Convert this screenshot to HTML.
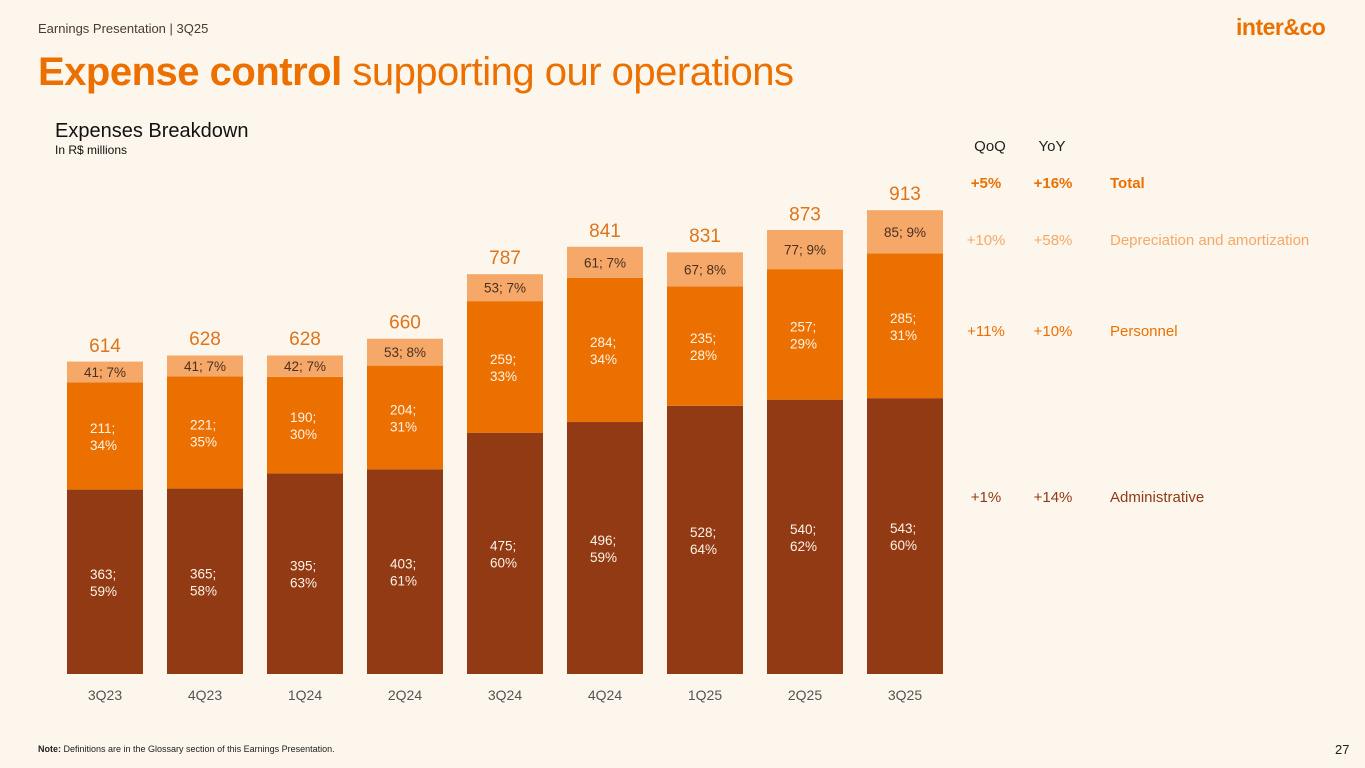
<!DOCTYPE html>
<html><head><meta charset="utf-8"><style>
body{margin:0;width:1365px;height:768px;background:#fcf6ec;font-family:"Liberation Sans",sans-serif;overflow:hidden;position:relative}
.a{position:absolute;white-space:nowrap}
</style></head><body>
<div class="a" style="left:38px;top:21px;font-size:13px;color:#4a3a30">Earnings Presentation | 3Q25</div>
<div class="a" style="left:1236px;top:14px;font-size:23px;font-weight:bold;color:#ec7000;letter-spacing:-0.5px">inter&amp;co</div>
<div class="a" style="left:38px;top:50px;font-size:40px;color:#ec7000;letter-spacing:-0.5px"><b>Expense control</b> supporting our operations</div>
<div class="a" style="left:55px;top:120px;font-size:20px;color:#111">Expenses Breakdown</div>
<div class="a" style="left:55px;top:143px;font-size:12px;color:#111">In R$ millions</div>
<svg class="a" style="left:0;top:0" width="1365" height="768" id="chart"></svg>
<div class="a" style="left:38px;top:744px;font-size:9px;color:#222"><b>Note:</b> Definitions are in the Glossary section of this Earnings Presentation.</div>
<div class="a" style="left:1335px;top:742px;font-size:13px;color:#222">27</div>
<script>
const categories=["3Q23","4Q23","1Q24","2Q24","3Q24","4Q24","1Q25","2Q25","3Q25"];
const admin=[363,365,395,403,475,496,528,540,543];
const adminPct=[59,58,63,61,60,59,64,62,60];
const personnel=[211,221,190,204,259,284,235,257,285];
const personnelPct=[34,35,30,31,33,34,28,29,31];
const dna=[41,41,42,53,53,61,67,77,85];
const dnaPct=[7,7,7,8,7,7,8,9,9];
const totals=[614,628,628,660,787,841,831,873,913];
const legendNames=["Total","Depreciation and amortization","Personnel","Administrative"];
const qoq=["+5%","+10%","+11%","+1%"];
const yoy=["+16%","+58%","+10%","+14%"];

const svg=document.getElementById('chart');
const NS='http://www.w3.org/2000/svg';
const base=674,k=0.508,x0=105,step=100,bw=76;
const y=v=>base-v*k;
const xc=i=>x0+i*step;
function el(t,a,txt){const e=document.createElementNS(NS,t);for(const n in a)e.setAttribute(n,a[n]);if(txt!=null)e.textContent=txt;svg.appendChild(e);return e;}
function twoLine(cx,cy,l1,l2,name){
  const t=el('text',{x:cx-15,y:cy-3,'font-size':13.5,fill:'#fdf3e6'});
  
  
  const s1=document.createElementNS(NS,'tspan');s1.setAttribute('x',cx-15);s1.textContent=l1;t.appendChild(s1);
  const s2=document.createElementNS(NS,'tspan');s2.setAttribute('x',cx-15);s2.setAttribute('dy',17);s2.textContent=l2;t.appendChild(s2);
}
categories.forEach((c,i)=>{
  const cx=xc(i),l=cx-bw/2;
  const a=admin[i],p=personnel[i],d=dna[i];
  let r=el('rect',{x:l,y:y(a),width:bw,height:a*k,fill:'#923a14'});
  
  
  r=el('rect',{x:l,y:y(a+p),width:bw,height:p*k,fill:'#ec7000'});
  
  
  r=el('rect',{x:l,y:y(a+p+d),width:bw,height:d*k,fill:'#f5a867'});
  
  
  twoLine(cx,(y(0)+y(a))/2,a+';',adminPct[i]+'%','label-administrative');
  twoLine(cx,(y(a)+y(a+p))/2,p+';',personnelPct[i]+'%','label-personnel');
  let t=el('text',{x:cx,y:(y(a+p)+y(a+p+d))/2+5,'font-size':13.5,fill:'#4a3020','text-anchor':'middle'},d+'; '+dnaPct[i]+'%');
  
  
  t=el('text',{x:cx,y:y(totals[i])-10,'font-size':19,fill:'#e0741a','text-anchor':'middle'},totals[i]);
  
  
  t=el('text',{x:cx,y:700,'font-size':14,fill:'#555','text-anchor':'middle'},c);
  
  
});
let h=el('text',{x:990,y:151,'font-size':15,fill:'#222','text-anchor':'middle'},'QoQ');


h=el('text',{x:1052,y:151,'font-size':15,fill:'#222','text-anchor':'middle'},'YoY');


const rowY=[188,245,336,502],rowC=['#ec7000','#f5a867','#ec7000','#923a14'];
legendNames.forEach((n,i)=>{
  const w=i===0?'bold':'normal';
  let t=el('text',{x:986,y:rowY[i],'font-size':15,fill:rowC[i],'font-weight':w,'text-anchor':'middle'},qoq[i]);
  
  
  t=el('text',{x:1053,y:rowY[i],'font-size':15,fill:rowC[i],'font-weight':w,'text-anchor':'middle'},yoy[i]);
  
  
  t=el('text',{x:1110,y:rowY[i],'font-size':15,fill:rowC[i],'font-weight':w},n);
  
  
});
</script>
</body></html>
